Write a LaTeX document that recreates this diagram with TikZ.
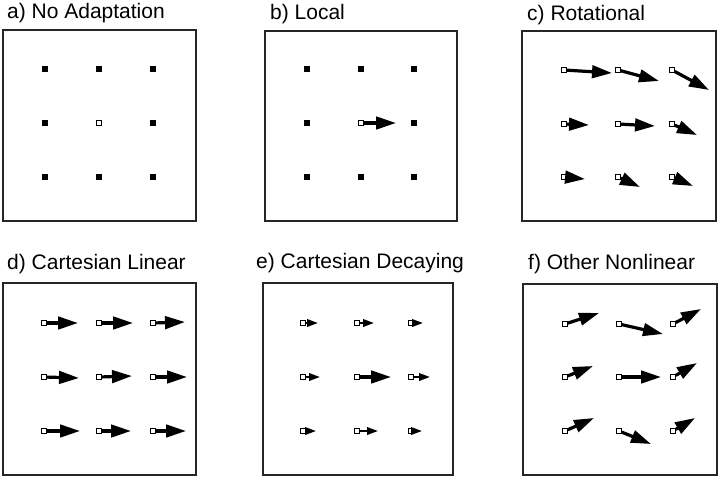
\documentclass[tikz,border=0pt]{standalone}
\usepackage{fontspec}
\setmainfont{Liberation Sans}
\usetikzlibrary{arrows.meta}
\tikzset{
  panel/.style={draw=black!85, line width=1.4pt},
  ttl/.style={anchor=base west, inner sep=0pt, font=\fontsize{21}{23}\selectfont},
  dot/.style={fill=black, draw=none, minimum size=6pt, inner sep=0pt, outer sep=0pt},
  sq/.style={draw=black, fill=white, line width=1pt, minimum size=5.5pt, inner sep=0pt, outer sep=0pt},
  arr/.style={line width=3.2pt, -{Triangle[length=20pt 0 0,width=12.5pt 0 0]}},
  arrs/.style={line width=2pt, -{Triangle[length=11pt 0 0,width=7.5pt 0 0]}},
}
\begin{document}
\begin{tikzpicture}[x=1pt,y=-1pt]
\useasboundingbox (0,0) rectangle (720,480);
% ---------- titles
\node[ttl] (ta) at (7,18) {a) No Adaptation};
\node[ttl] (tb) at (270,19) {b) Local};
\node[ttl] (tc) at (527,20) {c) Rotational};
\node[ttl] (td) at (7,269) {d) Cartesian Linear};
\node[ttl] (te) at (256,268) {e) Cartesian Decaying};
\node[ttl] (tf) at (528,269) {f) Other Nonlinear};
% ---------- panel frames
\draw[panel] (3,30) rectangle (196,221);
\draw[panel] (265,31) rectangle (457,221);
\draw[panel] (522,31) rectangle (716,221);
\draw[panel] (3,283) rectangle (196,475);
\draw[panel] (263,283) rectangle (453,475);
\draw[panel] (523,284) rectangle (717,475);
% ---------- a) No Adaptation
\node[dot] (a11) at (45,69) {};
\node[dot] (a12) at (99,69) {};
\node[dot] (a13) at (153,69) {};
\node[dot] (a21) at (45,123) {};
\node[sq, minimum size=5pt, line width=0.8pt] (a22) at (99,123) {};
\node[dot] (a23) at (153,123) {};
\node[dot] (a31) at (45,177) {};
\node[dot] (a32) at (99,177) {};
\node[dot] (a33) at (153,177) {};
% ---------- b) Local
\node[dot] (b11) at (307,69) {};
\node[dot] (b12) at (361,69) {};
\node[dot] (b13) at (414,69) {};
\node[dot] (b21) at (307,123) {};
\node[sq] (b22) at (361,123) {};
\node[dot] (b23) at (414,123) {};
\node[dot] (b31) at (307,177) {};
\node[dot] (b32) at (361,177) {};
\node[dot] (b33) at (414,177) {};
\coordinate (b22t) at (396,123);
\draw[arr] (b22) -- (b22t);
% ---------- c) Rotational
\node[sq] (c11) at (564,70) {};
\node[sq] (c12) at (618,70) {};
\node[sq] (c13) at (672,70) {};
\node[sq] (c21) at (564,124) {};
\node[sq] (c22) at (618,124) {};
\node[sq] (c23) at (672,124) {};
\node[sq] (c31) at (564,177) {};
\node[sq] (c32) at (618,177) {};
\node[sq] (c33) at (672,177) {};
\coordinate (c11t) at (612,73);
\coordinate (c12t) at (659,81);
\coordinate (c13t) at (709,90);
\coordinate (c21t) at (589,125);
\coordinate (c22t) at (655,126);
\coordinate (c23t) at (697,135);
\coordinate (c31t) at (585,179);
\coordinate (c32t) at (640,187);
\coordinate (c33t) at (693,186);
\foreach \n in {c11,c12,c13,c21,c22,c23,c31,c32,c33}
  \draw[arr] (\n) -- (\n t);
% ---------- d) Cartesian Linear
\node[sq] (d11) at (44,323) {};
\node[sq] (d12) at (99,323) {};
\node[sq] (d13) at (153,323) {};
\node[sq] (d21) at (44,377) {};
\node[sq] (d22) at (99,377) {};
\node[sq] (d23) at (153,377) {};
\node[sq] (d31) at (44,431) {};
\node[sq] (d32) at (99,431) {};
\node[sq] (d33) at (153,431) {};
\coordinate (d11t) at (78,323);
\coordinate (d12t) at (133,323);
\coordinate (d13t) at (185,322);
\coordinate (d21t) at (79,378);
\coordinate (d22t) at (132,376);
\coordinate (d23t) at (187,377);
\coordinate (d31t) at (80,431);
\coordinate (d32t) at (131,431);
\coordinate (d33t) at (186,431);
\foreach \n in {d11,d12,d13,d21,d22,d23,d31,d32,d33}
  \draw[arr] (\n) -- (\n t);
% ---------- e) Cartesian Decaying
\node[sq] (e11) at (303,323) {};
\node[sq] (e12) at (357,323) {};
\node[sq] (e13) at (411,323) {};
\node[sq] (e21) at (303,377) {};
\node[sq] (e22) at (357,377) {};
\node[sq] (e23) at (411,377) {};
\node[sq] (e31) at (303,431) {};
\node[sq] (e32) at (357,431) {};
\node[sq] (e33) at (411,431) {};
\coordinate (e11t) at (318,323);
\coordinate (e12t) at (374,323);
\coordinate (e13t) at (423,323);
\coordinate (e21t) at (320,377);
\coordinate (e22t) at (391,377);
\coordinate (e23t) at (430,377);
\coordinate (e31t) at (316,431);
\coordinate (e32t) at (378,431);
\coordinate (e33t) at (422,431);
\foreach \n in {e11,e12,e13,e21,e23,e31,e32,e33}
  \draw[arrs] (\n) -- (\n t);
\draw[arr] (e22) -- (e22t);
% ---------- f) Other Nonlinear
\node[sq] (f11) at (565,324) {};
\node[sq] (f12) at (619,324) {};
\node[sq] (f13) at (673,324) {};
\node[sq] (f21) at (565,377) {};
\node[sq] (f22) at (619,377) {};
\node[sq] (f23) at (673,377) {};
\node[sq] (f31) at (565,431) {};
\node[sq] (f32) at (619,431) {};
\node[sq] (f33) at (673,431) {};
\coordinate (f11t) at (599,313);
\coordinate (f12t) at (663,334);
\coordinate (f13t) at (701,309);
\coordinate (f21t) at (593,366);
\coordinate (f22t) at (661,377);
\coordinate (f23t) at (697,363);
\coordinate (f31t) at (594,418);
\coordinate (f32t) at (651,444);
\coordinate (f33t) at (695,418);
\foreach \n in {f11,f12,f13,f21,f22,f23,f31,f32,f33}
  \draw[arr] (\n) -- (\n t);
\end{tikzpicture}
\end{document}
